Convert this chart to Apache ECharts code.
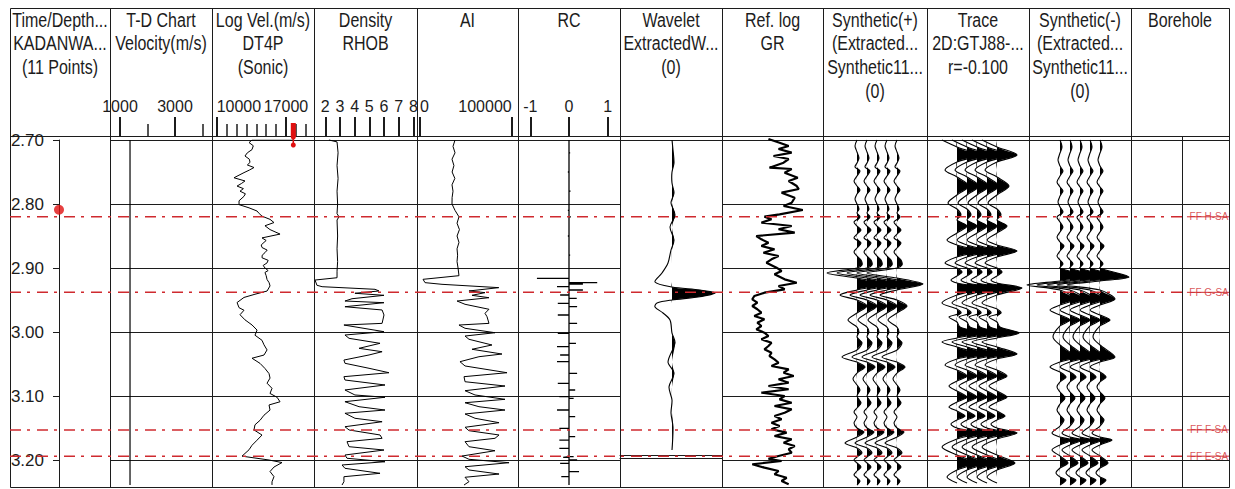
<!DOCTYPE html>
<html>
<head>
<meta charset="utf-8">
<title>Synthetic seismogram</title>
<script src="https://cdn.jsdelivr.net/npm/echarts@6/dist/echarts.min.js"></script>
<style>
  html, body { margin: 0; padding: 0; background: #fff; }
  #chart { width: 1235px; height: 489px; }
</style>
</head>
<body>
<div id="chart"></div>
<script>
var FONT = "'Liberation Sans', Arial, sans-serif";
var INK = '#1c1c1c';
var RED = '#cf2a2f';

// ---- data (time in s, values in track units) ----
var headers = [
  ['Time/Depth...', 'KADANWA...', '(11 Points)'],
  ['T-D Chart', 'Velocity(m/s)'],
  ['Log Vel.(m/s)', 'DT4P', '(Sonic)'],
  ['Density', 'RHOB'],
  ['AI'],
  ['RC'],
  ['Wavelet', 'ExtractedW...', '(0)'],
  ['Ref. log', 'GR'],
  ['Synthetic(+)', '(Extracted...', 'Synthetic11...', '(0)'],
  ['Trace', '2D:GTJ88-...', 'r=-0.100'],
  ['Synthetic(-)', '(Extracted...', 'Synthetic11...', '(0)'],
  ['Borehole']
];

var tdMajor = [1000, 3000];
var tdMinor = [2000, 4000];
var velMajor = [10000, 17000];
var velMinor = [11000, 12000, 13000, 14000, 15000, 16000, 18000, 19000];
var rhobTicks = [2, 3, 4, 5, 6, 7, 8];
var aiTicks = [0, 100000];
var rcTicks = [-1, 0, 1];

var horizonNames = ['FF H-SA', 'FF G-SA', 'FF F-SA', 'FF E-SA'];
var horizonTimes = [2.820, 2.938, 3.153, 3.194];

var checkshotTime = [2.809];
var tdTime = [2.700, 3.239];
var tdVel = [1364, 1364];
var repTime = [2.6734, 2.6953, 2.7078];
var repVel = 17740;

var sonic = [
  [2.700, 17810], [2.700, 13570], [2.704, 13270], [2.709, 13700], [2.715, 13570], [2.720, 13100], [2.725, 12860],
  [2.730, 13300], [2.735, 13370], [2.739, 13100], [2.743, 13770], [2.747, 13300], [2.751, 12760], [2.759, 11750],
  [2.764, 12860], [2.768, 12500], [2.772, 12060], [2.776, 12700], [2.780, 12360], [2.784, 12900], [2.788, 12760],
  [2.795, 12260], [2.801, 12260], [2.806, 13270], [2.811, 14080], [2.815, 14300], [2.819, 14580], [2.824, 15390],
  [2.829, 15790], [2.834, 14880], [2.840, 15390], [2.847, 16400], [2.853, 14580], [2.857, 15000], [2.860, 14780],
  [2.864, 14500], [2.868, 14580], [2.872, 15100], [2.876, 14880], [2.880, 14600], [2.884, 14580], [2.888, 15200],
  [2.892, 15090], [2.896, 14700], [2.900, 14880], [2.904, 15200], [2.907, 14880], [2.912, 15000], [2.918, 15090],
  [2.923, 15300], [2.928, 15390], [2.936, 15090], [2.941, 13870], [2.946, 12760], [2.954, 12060], [2.962, 12260],
  [2.966, 12760], [2.973, 12360], [2.981, 12860], [2.989, 13570], [2.997, 14080], [3.005, 13870], [3.013, 14580],
  [3.020, 14780], [3.028, 15090], [3.036, 14780], [3.041, 13570], [3.049, 14380], [3.057, 14880], [3.065, 15290],
  [3.072, 15390], [3.080, 15090], [3.088, 15590], [3.096, 15390], [3.102, 16100], [3.109, 16400], [3.114, 15290],
  [3.122, 15390], [3.130, 14780], [3.138, 14380], [3.145, 13870], [3.153, 13770], [3.161, 14580], [3.169, 14080],
  [3.177, 13570], [3.184, 13270], [3.194, 12560], [3.200, 15290], [3.204, 16600], [3.211, 15790], [3.218, 15390],
  [3.226, 15790], [3.234, 15590], [3.239, 15590]
];

var rhob = [
  [2.700, 2.25], [2.703, 2.80], [2.720, 2.87], [2.740, 2.80], [2.760, 2.87], [2.780, 2.80], [2.800, 2.84],
  [2.815, 2.80], [2.820, 2.93], [2.825, 2.80], [2.850, 2.84], [2.870, 2.80], [2.890, 2.84], [2.905, 2.80],
  [2.9152, 2.80], [2.9188, 1.30], [2.9270, 1.43], [2.9292, 1.78], [2.9333, 5.39], [2.9359, 5.66], [2.9395, 4.02],
  [2.9427, 6.00], [2.9480, 3.82], [2.9516, 3.34], [2.9542, 6.00], [2.9605, 3.34], [2.9656, 5.87], [2.9734, 6.00],
  [2.9865, 5.87], [2.9891, 3.27], [2.9995, 6.00], [3.0047, 3.34], [3.0099, 3.62], [3.0177, 5.73], [3.0255, 4.30],
  [3.0308, 5.87], [3.0359, 4.98], [3.0438, 3.27], [3.0489, 3.34], [3.0567, 4.98], [3.0636, 6.34], [3.0698, 3.27],
  [3.0750, 3.34], [3.0828, 6.07], [3.0906, 3.34], [3.0984, 4.02], [3.1020, 6.07], [3.1089, 3.34], [3.1167, 4.30],
  [3.1219, 6.07], [3.1270, 3.34], [3.1348, 4.02], [3.1402, 5.87], [3.1480, 3.34], [3.1531, 3.62], [3.1609, 5.73],
  [3.1661, 5.87], [3.1714, 3.48], [3.1792, 3.62], [3.1844, 6.00], [3.1922, 3.34], [3.1973, 3.48], [3.2027, 6.07],
  [3.2078, 3.14], [3.2130, 3.34], [3.2208, 5.73], [3.2261, 3.27], [3.2339, 3.27], [3.2391, 3.14]
];

var ai = [
  [2.700, 38200], [2.710, 36000], [2.720, 38200], [2.730, 34900], [2.740, 37000], [2.750, 35000], [2.760, 38000],
  [2.770, 34900], [2.780, 36000], [2.790, 35000], [2.800, 34900], [2.810, 38200], [2.820, 42500], [2.830, 40400],
  [2.840, 43000], [2.850, 40400], [2.860, 42500], [2.870, 40400], [2.880, 41000], [2.890, 40400], [2.900, 41500],
  [2.912, 42500], [2.9177, 3300], [2.9229, 5500], [2.9255, 24000], [2.9307, 85900], [2.9359, 53400], [2.9385, 70900],
  [2.9427, 56700], [2.9464, 75200], [2.9516, 40400], [2.9567, 49100], [2.9645, 75200], [2.9708, 70900], [2.9761, 73100],
  [2.9865, 75200], [2.9891, 42500], [2.9942, 49100], [3.0011, 81800], [3.0063, 49100], [3.0114, 53400], [3.0203, 78500],
  [3.0270, 56700], [3.0344, 89400], [3.0386, 64300], [3.0464, 43600], [3.0531, 49100], [3.0636, 94900], [3.0698, 48000],
  [3.0777, 49100], [3.0844, 92700], [3.0917, 49100], [3.0984, 60000], [3.1052, 92700], [3.1105, 49100], [3.1167, 64300],
  [3.1219, 92700], [3.1281, 49100], [3.1348, 60000], [3.1417, 86200], [3.1489, 49100], [3.1542, 53400], [3.1609, 86200],
  [3.1661, 81800], [3.1714, 49100], [3.1792, 53400], [3.1855, 81800], [3.1938, 45800], [3.1989, 53400], [3.2042, 97100],
  [3.2105, 49100], [3.2156, 53400], [3.2219, 86200], [3.2270, 49100], [3.2339, 53400], [3.2391, 48000]
];

var rcSpikes = [
  [2.720, 0.03], [2.750, -0.03], [2.780, 0.04], [2.810, -0.03], [2.820, 0.05], [2.850, -0.03], [2.880, 0.03],
  [2.9161, -0.83], [2.9229, 0.73], [2.9250, 0.36], [2.9292, -0.31], [2.9344, 0.36], [2.9422, -0.23], [2.9474, 0.20],
  [2.9552, -0.29], [2.9605, 0.21], [2.9734, -0.29], [2.9865, 0.21], [3.0020, -0.29], [3.0177, 0.18], [3.0230, -0.31],
  [3.0359, -0.23], [3.0464, -0.31], [3.0645, 0.21], [3.0802, -0.29], [3.0906, 0.16], [3.1011, -0.25], [3.1036, 0.12],
  [3.1219, -0.31], [3.1323, 0.16], [3.1505, -0.25], [3.1636, 0.16], [3.1688, -0.25], [3.1817, -0.25], [3.1948, 0.12],
  [3.1958, -0.15], [3.2000, 0.21], [3.2052, -0.23], [3.2182, 0.26], [3.2261, -0.20]
];

var wavelet = [
  [2.7000, 0], [2.7156, 1], [2.7359, 2], [2.7500, 0], [2.7672, 0], [2.7828, 2], [2.7984, -1], [2.8172, 3],
  [2.8359, -2], [2.8563, 2], [2.8719, -1], [2.8922, -4], [2.9078, -10], [2.9219, -17], [2.9297, 0], [2.9344, 28],
  [2.9391, 43], [2.9453, 26], [2.9500, 0], [2.9547, -15], [2.9609, -17], [2.9703, -9], [2.9813, -2], [3.0016, 0],
  [3.0172, 3], [3.0469, -4], [3.0641, 2], [3.0859, -3], [3.1063, 0], [3.1266, -1], [3.1484, 1], [3.1844, 0]
];

var gr = [
  [2.6984, 46], [2.7042, 57], [2.7094, 66], [2.7141, 56], [2.7198, 69], [2.7250, 51], [2.7297, 66], [2.7355, 61],
  [2.7433, 47], [2.7453, 69], [2.7511, 62], [2.7589, 75], [2.7641, 66], [2.7719, 74], [2.7766, 76], [2.7823, 59],
  [2.7902, 72], [2.7980, 69], [2.8031, 61], [2.8094, 80], [2.8161, 57], [2.8198, 42], [2.8239, 49], [2.8292, 39],
  [2.8344, 69], [2.8395, 56], [2.8448, 72], [2.8500, 34], [2.8552, 39], [2.8605, 46], [2.8656, 39], [2.8708, 52],
  [2.8761, 41], [2.8813, 56], [2.8864, 49], [2.8917, 44], [2.8995, 54], [2.9047, 59], [2.9098, 52], [2.9177, 62],
  [2.9230, 74], [2.9281, 56], [2.9333, 62], [2.9386, 42], [2.9438, 32], [2.9489, 30], [2.9542, 35], [2.9594, 30],
  [2.9645, 35], [2.9698, 39], [2.9750, 32], [2.9802, 42], [2.9855, 35], [2.9906, 39], [2.9958, 34], [3.0011, 42],
  [3.0063, 46], [3.0114, 39], [3.0167, 49], [3.0219, 46], [3.0270, 42], [3.0323, 49], [3.0375, 47], [3.0427, 52],
  [3.0480, 56], [3.0531, 49], [3.0583, 66], [3.0636, 61], [3.0688, 71], [3.0739, 56], [3.0792, 66], [3.0844, 46],
  [3.0895, 66], [3.0948, 39], [3.1000, 62], [3.1052, 57], [3.1105, 69], [3.1156, 52], [3.1208, 69], [3.1261, 62],
  [3.1313, 52], [3.1364, 59], [3.1417, 49], [3.1469, 57], [3.1520, 49], [3.1573, 64], [3.1625, 52], [3.1677, 69],
  [3.1730, 61], [3.1781, 72], [3.1833, 66], [3.1886, 69], [3.1938, 56], [3.1980, 46], [3.2016, 59], [3.2067, 30],
  [3.2120, 42], [3.2172, 56], [3.2223, 52], [3.2277, 64], [3.2328, 59], [3.2380, 66]
];

var synthPlus = [
  [2.7000, 0], [2.7094, -2], [2.7188, 0], [2.7281, 2], [2.7359, 0], [2.7422, -2], [2.7484, 3], [2.7563, 0],
  [2.7641, -3], [2.7719, 0], [2.7781, 3], [2.7844, 0], [2.7922, -2], [2.8000, 0], [2.8078, 2], [2.8141, 0],
  [2.8203, 3], [2.8281, -3], [2.8344, 0], [2.8406, 4], [2.8469, 0], [2.8531, -3], [2.8609, 4], [2.8688, 0],
  [2.8750, -3], [2.8813, 0], [2.8875, 4], [2.8953, 5], [2.9000, 0], [2.9078, -30], [2.9156, 0], [2.9250, 26],
  [2.9344, 0], [2.9422, -17], [2.9500, 0], [2.9594, 10], [2.9703, 0], [2.9813, -9], [2.9922, 0], [3.0000, 2],
  [3.0078, 0], [3.0172, 5], [3.0281, 0], [3.0391, -15], [3.0469, 0], [3.0547, 8], [3.0641, 0], [3.0734, -4],
  [3.0828, 0], [3.0906, 3], [3.1000, 0], [3.1109, 4], [3.1188, 0], [3.1250, -3], [3.1328, 0], [3.1422, -3],
  [3.1500, 0], [3.1563, 7], [3.1641, 0], [3.1734, -12], [3.1813, 0], [3.1891, 5], [3.1953, 0], [3.2000, -3],
  [3.2047, 0], [3.2109, 4], [3.2172, 0], [3.2234, -3], [3.2281, 0], [3.2328, 3], [3.2391, 0]
];

var seisTrace = [
  [2.7000, -15], [2.7109, 0], [2.7234, 20], [2.7344, 0], [2.7469, -12], [2.7578, 0], [2.7719, 12], [2.7859, 0],
  [2.7984, -9], [2.8078, 0], [2.8172, 4], [2.8250, 0], [2.8344, 10], [2.8453, 0], [2.8563, -10], [2.8641, 0],
  [2.8734, 20], [2.8828, 0], [2.8922, -12], [2.9000, 0], [2.9063, 5], [2.9125, 0], [2.9188, -6], [2.9234, 0],
  [2.9313, 25], [2.9422, 0], [2.9547, -15], [2.9641, 0], [2.9703, 4], [2.9766, -8], [2.9844, 0], [2.9922, 3],
  [3.0016, 22], [3.0094, 0], [3.0156, -15], [3.0234, 0], [3.0344, 20], [3.0422, 0], [3.0516, -12], [3.0594, 0],
  [3.0688, 10], [3.0766, 0], [3.0844, -8], [3.0922, 0], [3.1016, 10], [3.1094, 0], [3.1172, -8], [3.1234, 0],
  [3.1313, 8], [3.1375, 0], [3.1438, -6], [3.1500, 0], [3.1578, 20], [3.1672, 0], [3.1797, -15], [3.1922, 0],
  [3.2047, 18], [3.2156, 0], [3.2266, -10], [3.2359, 0]
];

var synthMinus = [
  [2.7000, 0], [2.7109, 2], [2.7203, 0], [2.7313, -2], [2.7406, 0], [2.7484, 3], [2.7563, 0], [2.7656, -3],
  [2.7734, 0], [2.7797, 3], [2.7875, 0], [2.7969, -2], [2.8047, 0], [2.8125, 3], [2.8203, -3], [2.8281, 0],
  [2.8359, 3], [2.8438, 0], [2.8516, -3], [2.8594, 0], [2.8656, 4], [2.8734, 0], [2.8813, -3], [2.8875, 0],
  [2.8938, 3], [2.9000, 0], [2.9141, 29], [2.9203, 0], [2.9266, -33], [2.9344, 0], [2.9484, 15], [2.9578, 0],
  [2.9656, -10], [2.9734, 0], [2.9813, 10], [2.9906, 0], [3.0078, -7], [3.0203, 0], [3.0391, 15], [3.0469, 0],
  [3.0547, -10], [3.0625, 0], [3.0703, 6], [3.0781, 0], [3.0859, -3], [3.0938, 0], [3.1031, 5], [3.1125, 0],
  [3.1219, -3], [3.1297, 0], [3.1375, 4], [3.1469, 0], [3.1578, -8], [3.1641, 0], [3.1688, 12], [3.1766, 0],
  [3.1844, -8], [3.1938, 0], [3.2047, 8], [3.2125, 0], [3.2203, -4], [3.2266, 0], [3.2313, 6], [3.2391, 0]
];

// ---- layout ----
var cols = [10, 110, 212, 314, 417, 518, 620, 722, 823, 927, 1029, 1131, 1229];
var TOP = 140, BOTTOM = 487, HEAD = 136;
var PX_PER_S = 640;
var T0 = 2.70, T1 = T0 + (BOTTOM - TOP) / PX_PER_S;
var WAVE_BOTTOM = 455;
var LABEL_SIZE = 16;

var chart = echarts.init(document.getElementById('chart'), null, { renderer: 'svg' });

function grid(left, right, bottom) {
  return { left: left, width: right - left, top: TOP, height: (bottom || BOTTOM) - TOP, outerBoundsMode: 'none' };
}
var grids = [
  grid(59, 110), grid(110, 212), grid(212, 314), grid(314, 417), grid(417, 518), grid(518, 620),
  grid(620, 722, WAVE_BOTTOM), grid(722, 823), grid(823, 927), grid(927, 1029), grid(1029, 1131),
  grid(1131, 1229), grid(10, 1229)
];

function timeAxis(gi, extra) {
  return Object.assign({
    type: 'value', gridIndex: gi, inverse: true, min: T0, max: T1, interval: 0.1,
    axisLine: { show: false }, axisTick: { show: false }, axisLabel: { show: false },
    splitLine: { show: true, lineStyle: { color: INK, width: 1 } }
  }, extra || {});
}
var yAxes = [];
for (var i = 0; i < 13; i++) yAxes.push(timeAxis(i));
yAxes[0] = timeAxis(0, {
  splitLine: { show: false },
  axisLine: { show: true, lineStyle: { color: INK } },
  axisTick: { show: true, length: 6, lineStyle: { color: INK } },
  axisLabel: { show: true, margin: 15, fontSize: 17, fontFamily: FONT, color: INK,
    showMaxLabel: false, formatter: function (v) { return v.toFixed(2); } }
});
yAxes[6] = timeAxis(6, { max: T0 + (WAVE_BOTTOM - TOP) / PX_PER_S, splitLine: { show: false } });
yAxes[12] = timeAxis(12, { splitLine: { show: false } });

function hiddenX(gi, min, max) {
  return { type: 'value', gridIndex: gi, min: min, max: max, show: false };
}
function scaleX(gi, min, max, ticks, len, labels, labelOpt) {
  return {
    type: 'value', gridIndex: gi, position: 'top', offset: TOP - HEAD, min: min, max: max,
    axisLine: { show: false }, splitLine: { show: false },
    axisTick: { show: true, customValues: ticks, length: len, lineStyle: { color: INK, width: len > 15 ? 2 : 1.5 } },
    axisLabel: Object.assign({
      show: !!labels, customValues: labels || [], margin: 22, fontSize: LABEL_SIZE,
      fontFamily: FONT, color: INK, hideOverlap: false, showMinLabel: true, showMaxLabel: true,
      formatter: function (v) { return String(v); }
    }, labelOpt || {})
  };
}
var xAxes = [
  hiddenX(0, 0, 1),                                                        // 0 time/depth
  scaleX(1, 636, 4345, tdMajor, 19, tdMajor),                              // 1 T-D major
  scaleX(1, 636, 4345, tdMinor, 12),                                       // 2 T-D minor
  scaleX(2, 9530, 19830, velMajor, 19, velMajor, { alignMinLabel: 'left' }), // 3 sonic major
  scaleX(2, 9530, 19830, velMinor, 12),                                    // 4 sonic minor
  scaleX(3, 1.23, 8.25, rhobTicks, 19, rhobTicks),                         // 5 density
  scaleX(4, -3270, 106870, aiTicks, 19, aiTicks, { alignMinLabel: 'left', alignMaxLabel: 'right' }), // 6 AI
  scaleX(5, -1.32, 1.32, rcTicks, 19, rcTicks),                            // 7 RC
  { type: 'value', gridIndex: 6, position: 'top', min: 0, max: 102, axisLine: { show: true, lineStyle: { color: INK } },
    axisTick: { show: false }, axisLabel: { show: false }, splitLine: { show: false } },            // 8 wavelet top
  { type: 'value', gridIndex: 6, position: 'bottom', min: 0, max: 102, axisLine: { show: true, lineStyle: { color: INK } },
    axisTick: { show: false }, axisLabel: { show: false }, splitLine: { show: false } },            // 9 wavelet bottom
  { type: 'value', gridIndex: 6, position: 'bottom', offset: 3, min: 0, max: 102, axisLine: { show: true, lineStyle: { color: INK } },
    axisTick: { show: false }, axisLabel: { show: false }, splitLine: { show: false } },            // 10
  hiddenX(7, 0, 100),   // 11 GR
  hiddenX(8, 0, 104),   // 12 synthetic +
  hiddenX(9, 0, 102),   // 13 trace
  hiddenX(10, 0, 102),  // 14 synthetic -
  hiddenX(11, 0, 1),    // 15 borehole
  hiddenX(12, 0, 1)     // 16 overlay
];

function logLine(xi, yi, pts, width, clip) {
  return {
    type: 'line', xAxisIndex: xi, yAxisIndex: yi, symbol: 'none', animation: false, silent: true,
    clip: clip !== false, z: 3,
    lineStyle: { color: '#000', width: width || 1 },
    data: pts.map(function (p) { return [p[1], p[0]]; })
  };
}

function wiggle(xi, yi, trace, bases) {
  var first = trace[0][0], last = trace[trace.length - 1][0];
  return {
    type: 'custom', coordinateSystem: 'cartesian2d', xAxisIndex: xi, yAxisIndex: yi,
    animation: false, silent: true, z: 3,
    data: bases.map(function (b) { return [b, first]; }),
    renderItem: function (params, api) {
      var b = bases[params.dataIndex];
      var line = trace.map(function (p) { return api.coord([b + p[1], p[0]]); });
      var fill = [api.coord([b, first])]
        .concat(trace.map(function (p) { return api.coord([b + Math.max(p[1], 0), p[0]]); }))
        .concat([api.coord([b, last])]);
      return {
        type: 'group',
        children: [
          { type: 'polygon', shape: { points: fill, smooth: 0.3 }, style: { fill: '#000', stroke: null } },
          { type: 'polyline', shape: { points: line, smooth: 0.3 }, style: { fill: null, stroke: '#000', lineWidth: 1.1 } }
        ]
      };
    }
  };
}

var rcData = [[0, T0]];
rcSpikes.forEach(function (s) { rcData.push([0, s[0]], [s[1], s[0]], [0, s[0]]); });
rcData.push([0, 3.239]);

var series = [
  { type: 'scatter', xAxisIndex: 0, yAxisIndex: 0, data: checkshotTime.map(function (t) { return [0, t]; }),
    symbolSize: 10, itemStyle: { color: '#e01010' }, clip: false, z: 6, animation: false },
  logLine(1, 1, tdTime.map(function (t, k) { return [t, tdVel[k]]; }), 1.2),
  logLine(3, 2, sonic, 1),
  { type: 'line', xAxisIndex: 3, yAxisIndex: 2, symbol: 'none', clip: false, z: 6, animation: false,
    lineStyle: { color: '#e01010', width: 5 }, data: [[repVel, repTime[0]], [repVel, repTime[1]]] },
  { type: 'line', xAxisIndex: 3, yAxisIndex: 2, clip: false, z: 6, animation: false,
    symbol: 'circle', symbolSize: 5, showSymbol: true, itemStyle: { color: '#e01010' },
    lineStyle: { color: '#e01010', width: 1.5 }, data: [[repVel, repTime[1]], [repVel, repTime[2]]] },
  logLine(5, 3, rhob, 1, false),
  logLine(6, 4, ai, 1, false),
  { type: 'line', xAxisIndex: 7, yAxisIndex: 5, symbol: 'none', animation: false, z: 3,
    lineStyle: { color: '#000', width: 1.3 }, data: rcData },
  wiggle(8, 6, wavelet, [52]),
  logLine(11, 7, gr, 2.2, false),
  wiggle(12, 8, synthPlus, [34, 44, 54, 64, 74]),
  wiggle(13, 9, seisTrace, [30, 40, 50, 60, 70]),
  wiggle(14, 10, synthMinus, [31, 41, 51, 61, 71])
];

horizonTimes.forEach(function (t, k) {
  series.push({ type: 'line', xAxisIndex: 16, yAxisIndex: 12, symbol: 'none', animation: false, silent: true, z: 8,
    lineStyle: { color: RED, width: 1.5, type: [11, 6, 3, 7] }, data: [[0, t], [0.9655, t]] });
  series.push({ type: 'line', xAxisIndex: 16, yAxisIndex: 12, symbol: 'none', animation: false, silent: true, z: 8,
    lineStyle: { color: RED, width: 1 }, data: [[0.9655, t], [1, t]] });
  series.push({ type: 'scatter', xAxisIndex: 16, yAxisIndex: 12, animation: false, silent: true, z: 9,
    symbolSize: 1, itemStyle: { color: 'rgba(0,0,0,0)' }, data: [[0.9836, t]],
    label: { show: true, position: 'inside', formatter: horizonNames[k], color: RED, fontSize: 10, fontFamily: FONT } });
});

// frame, column separators, header titles (narrowed type, as in the reference)
var elements = [
  { type: 'rect', shape: { x: 10.5, y: 8.5, width: 1219, height: BOTTOM - 8 }, style: { fill: null, stroke: INK, lineWidth: 1 }, silent: true },
  { type: 'line', shape: { x1: 10, y1: HEAD + 0.5, x2: 1229, y2: HEAD + 0.5 }, style: { stroke: INK, lineWidth: 1 }, silent: true },
  { type: 'line', shape: { x1: 1182.5, y1: HEAD, x2: 1182.5, y2: BOTTOM }, style: { stroke: INK, lineWidth: 1 }, silent: true }
];
cols.slice(1, -1).forEach(function (x) {
  elements.push({ type: 'line', shape: { x1: x + 0.5, y1: 8, x2: x + 0.5, y2: BOTTOM }, style: { stroke: INK, lineWidth: 1 }, silent: true });
});
headers.forEach(function (lines, c) {
  var cx = (cols[c] + cols[c + 1]) / 2;
  lines.forEach(function (txt, j) {
    elements.push({ type: 'text', x: cx, y: 20 + j * 23.7, scaleX: 0.8, silent: true, z: 10,
      style: { text: txt, fontSize: 20, fontFamily: FONT, fill: INK, align: 'center', verticalAlign: 'middle' } });
  });
});

chart.setOption({
  animation: false,
  backgroundColor: '#fff',
  textStyle: { fontFamily: FONT },
  graphic: { elements: elements },
  grid: grids,
  xAxis: xAxes,
  yAxis: yAxes,
  series: series
});
</script>
</body>
</html>
